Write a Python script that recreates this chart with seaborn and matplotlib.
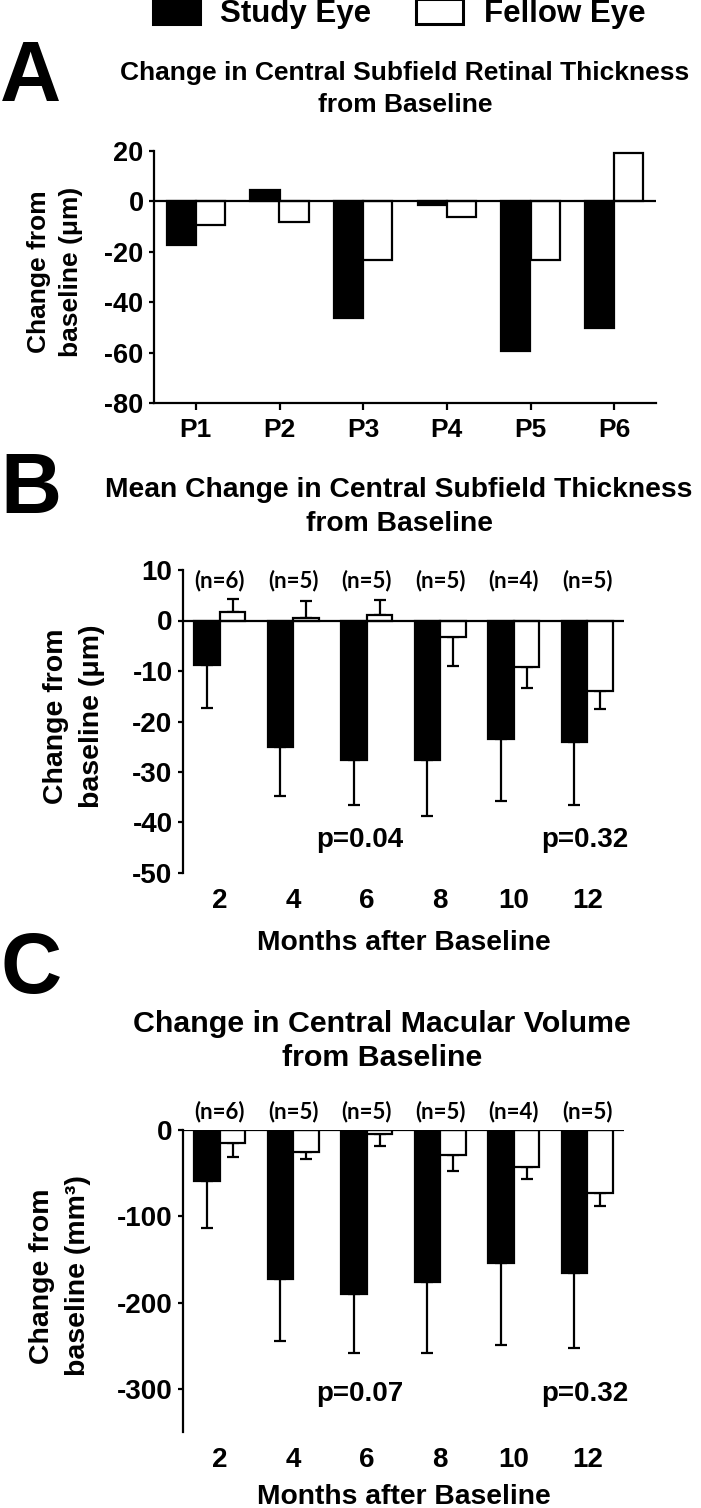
import matplotlib
matplotlib.use("Agg")
import matplotlib.pyplot as plt
import seaborn as sns
import pandas as pd
from matplotlib.patches import Patch

# ---------------- data ----------------
patients = ["P1", "P2", "P3", "P4", "P5", "P6"]
csrt_study = [-17.5, 4.4, -46.3, -1.5, -59.3, -50.2]
csrt_fellow = [-9.4, -8.2, -23.3, -6.2, -23.3, 19.1]

months = ["2", "4", "6", "8", "10", "12"]
n_labels = ["(n=6)", "(n=5)", "(n=5)", "(n=5)", "(n=4)", "(n=5)"]

cst_study = [-8.9, -25.0, -27.7, -27.7, -23.5, -24.1]
cst_study_err = [8.5, 9.7, 8.9, 11.0, 12.2, 12.4]
cst_fellow = [1.6, 0.5, 1.0, -3.3, -9.2, -13.9]
cst_fellow_err = [2.7, 3.3, 3.0, 5.7, 4.1, 3.7]
cst_p = ["p=0.04", "p=0.32"]

cmv_study = [-59, -172.5, -189.5, -176, -154, -166]
cmv_study_err = [55, 72.5, 69.5, 83, 95, 87]
cmv_fellow = [-15, -25, -5, -29, -42.6, -73]
cmv_fellow_err = [16, 9, 14, 18, 14.4, 14.5]
cmv_p = ["p=0.07", "p=0.32"]

eyes = ["Study Eye", "Fellow Eye"]
colors = {"Study Eye": "black", "Fellow Eye": "white"}

# ---------------- style ----------------
sns.set_theme(style="ticks")
plt.rcParams["font.family"] = ["Liberation Sans", "DejaVu Sans"]
plt.rcParams["font.weight"] = "bold"
plt.rcParams["axes.labelweight"] = "bold"
plt.rcParams["axes.unicode_minus"] = False
plt.rcParams["text.color"] = "black"
plt.rcParams["axes.labelcolor"] = "black"
plt.rcParams["xtick.color"] = "black"
plt.rcParams["ytick.color"] = "black"
plt.rcParams["axes.edgecolor"] = "black"
LW = 1.6

W, H = 701, 1508
fig = plt.figure(figsize=(W / 100, H / 100), dpi=100)


def fx(px):
    return px / W


def fy(py):
    return 1 - py / H


def make_axes(l, r, t, b):
    return fig.add_axes([fx(l), fy(b), fx(r) - fx(l), (b - t) / H])


def draw_bars(ax, cats, study, fellow):
    df = pd.DataFrame({
        "cat": cats * 2,
        "eye": [eyes[0]] * len(cats) + [eyes[1]] * len(cats),
        "value": list(study) + list(fellow),
    })
    sns.barplot(data=df, x="cat", y="value", hue="eye", order=cats,
                hue_order=eyes, palette=colors, edgecolor="black",
                linewidth=LW, width=0.7, errorbar=None, legend=False,
                saturation=1, ax=ax)
    ax.axhline(0, color="black", lw=LW, zorder=3)
    ax.set_xlim(-0.5, 5.5)
    ax.set_xlabel("")
    ax.set_ylabel("")
    for s in ["top", "right"]:
        ax.spines[s].set_visible(False)
    for s in ["left", "bottom"]:
        ax.spines[s].set_linewidth(LW)
        ax.spines[s].set_color("black")
    ax.tick_params(axis="y", length=3.5, width=LW, labelsize=20, pad=4,
                   color="black", labelcolor="black")


def draw_err(ax, container, means, err):
    xs = [p.get_x() + p.get_width() / 2 for p in container]
    lower = [e if m < 0 else 0 for m, e in zip(means, err)]
    upper = [e if m >= 0 else 0 for m, e in zip(means, err)]
    ax.errorbar(xs, means, yerr=[lower, upper], fmt="none", ecolor="black",
                elinewidth=LW, capsize=4, capthick=LW, zorder=0.5)


# ---------------- Panel A ----------------
axA = make_axes(154, 656, 151, 403)
draw_bars(axA, patients, csrt_study, csrt_fellow)
axA.set_ylim(-80, 20)
axA.set_yticks(range(-80, 21, 20))
axA.tick_params(axis="y", labelsize=19.5)
axA.tick_params(axis="x", length=5, width=LW, labelsize=19, pad=6,
                color="black", labelcolor="black")

# ---------------- Panel B ----------------
axB = make_axes(183, 624, 570, 873)
draw_bars(axB, months, cst_study, cst_fellow)
draw_err(axB, axB.containers[0], cst_study, cst_study_err)
draw_err(axB, axB.containers[1], cst_fellow, cst_fellow_err)
axB.set_ylim(-50, 10)
axB.set_yticks(range(-50, 11, 10))
axB.spines["bottom"].set_visible(False)
axB.tick_params(axis="x", length=0, labelsize=20, pad=11, labelcolor="black")
axB.set_xlabel("Months after Baseline", fontsize=20.3, labelpad=11, color="black")
for i, t in enumerate(n_labels):
    axB.text(i, 7.9, t, ha="center", va="center", fontsize=16,
             family=["Lato", "DejaVu Sans"], fontweight="bold", clip_on=False)
axB.text(1.9, -43.5, cst_p[0], ha="center", va="center", fontsize=20)
axB.text(4.97, -43.5, cst_p[1], ha="center", va="center", fontsize=20)

# ---------------- Panel C ----------------
axC = make_axes(183, 624, 1130, 1432)
draw_bars(axC, months, cmv_study, cmv_fellow)
draw_err(axC, axC.containers[0], cmv_study, cmv_study_err)
draw_err(axC, axC.containers[1], cmv_fellow, cmv_fellow_err)
axC.set_ylim(-350, 0)
axC.set_yticks([-300, -200, -100, 0])
axC.spines["bottom"].set_visible(False)
axC.tick_params(axis="x", length=0, labelsize=20, pad=11, labelcolor="black")
axC.set_xlabel("Months after Baseline", fontsize=20.3, labelpad=7.5, color="black")
for i, t in enumerate(n_labels):
    axC.text(i, 22, t, ha="center", va="center", fontsize=16,
             family=["Lato", "DejaVu Sans"], fontweight="bold", clip_on=False)
axC.text(1.9, -306, cmv_p[0], ha="center", va="center", fontsize=20)
axC.text(4.97, -306, cmv_p[1], ha="center", va="center", fontsize=20)

# ---------------- titles, y labels, panel letters ----------------
fig.text(fx(405), fy(89), "Change in Central Subfield Retinal Thickness\nfrom Baseline",
         ha="center", va="center", fontsize=19, linespacing=1.37)
fig.text(fx(399), fy(507), "Mean Change in Central Subfield Thickness\nfrom Baseline",
         ha="center", va="center", fontsize=20.3, linespacing=1.37)
fig.text(fx(382), fy(1041), "Change in Central Macular Volume\nfrom Baseline",
         ha="center", va="center", fontsize=21.9, linespacing=1.3)

fig.text(fx(55), fy(272), "Change from\nbaseline (\u03bcm)", rotation=90,
         ha="center", va="center", fontsize=19, linespacing=1.45)
fig.text(fx(74), fy(716), "Change from\nbaseline (\u03bcm)", rotation=90,
         ha="center", va="center", fontsize=20.5, linespacing=1.5)
fig.text(fx(60), fy(1276), "Change from\nbaseline (mm\u00b3)", rotation=90,
         ha="center", va="center", fontsize=20.5, linespacing=1.5)

fig.text(0.0, fy(79), "A", ha="left", va="center", fontsize=61, fontweight="bold")
fig.text(0.0, fy(491), "B", ha="left", va="center", fontsize=61, fontweight="bold")
fig.text(0.0, fy(971), "C", ha="left", va="center", fontsize=61, fontweight="bold")

# ---------------- legend ----------------
handles = [Patch(facecolor=colors[e], edgecolor="black", linewidth=2.2, label=e) for e in eyes]
fig.legend(handles=handles, loc="center", bbox_to_anchor=(fx(399), fy(14)), ncol=2,
           frameon=False, fontsize=22.5, handlelength=1.5, handleheight=0.85,
           handletextpad=0.65, columnspacing=1.45, borderpad=0, borderaxespad=0,
           labelcolor="black")

fig.savefig("out.png", dpi=100)
